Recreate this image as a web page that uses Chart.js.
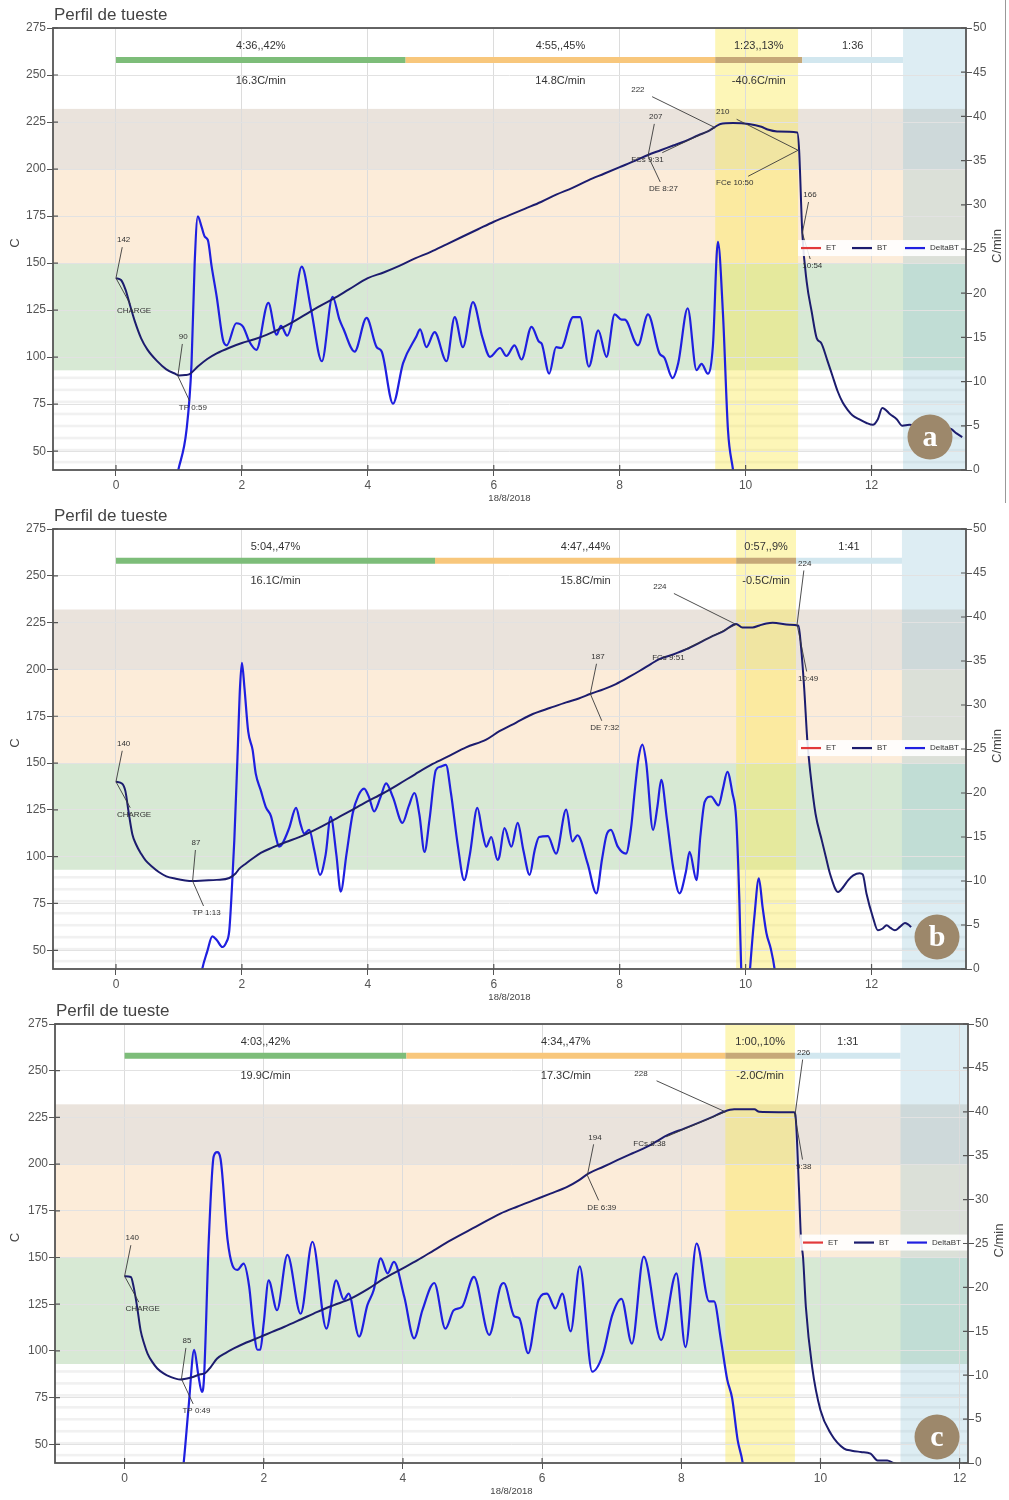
<!DOCTYPE html>
<html><head><meta charset="utf-8">
<script src="https://cdn.jsdelivr.net/npm/chart.js@4.4.1/dist/chart.umd.min.js"></script>
<style>
html,body{margin:0;padding:0;background:#fff;}
body{width:1009px;height:1500px;position:relative;overflow:hidden;}
.panel{position:absolute;left:0;width:1009px;}
canvas{display:block;}
</style></head><body>
<div class="panel" style="top:0;height:503px"><canvas id="cA" width="1009" height="503"></canvas></div>
<div class="panel" style="top:503px;height:500px"><canvas id="cB" width="1009" height="500"></canvas></div>
<div class="panel" style="top:1003px;height:497px"><canvas id="cC" width="1009" height="497"></canvas></div>
<script>
// ---------- shared labels / ticks ----------
const chartTitle = 'Perfil de tueste';
const xAxisTitle = '18/8/2018';
const leftAxisTitle = 'C';
const rightAxisTitle = 'C/min';
const timeTicks = [0, 2, 4, 6, 8, 10, 12];
const tempTicks = [50, 75, 100, 125, 150, 175, 200, 225, 250, 275];
const rorTicks = [0, 5, 10, 15, 20, 25, 30, 35, 40, 45, 50];
const legendLabels = ['ET', 'BT', 'DeltaBT'];
const panelLetters = ['a', 'b', 'c'];

// ---------- panel a ----------
const btA = [[0,142],[0.08,141],[0.15,136],[0.22,128],[0.3,119],[0.4,110],[0.5,104],[0.65,98],[0.8,93.5],[0.95,91],[1.0,90.3],[1.1,90.5],[1.17,91],[1.3,95],[1.45,99],[1.6,102],[1.8,105],[2.0,107.5],[2.2,109.5],[2.4,112],[2.6,115],[2.8,118.5],[3.0,122.5],[3.2,126.5],[3.45,131],[3.7,136],[4.0,142],[4.25,145],[4.5,148.5],[4.75,152.5],[5.0,156],[5.25,160],[5.5,164],[5.75,168],[6.0,172],[6.25,175.5],[6.5,179],[6.75,182.5],[7.0,186.5],[7.25,190],[7.5,194],[7.75,197.5],[8.0,201],[8.25,204.5],[8.45,207.5],[8.65,210],[8.85,212.5],[9.05,215],[9.25,218],[9.4,220],[9.52,222.5],[9.6,224],[9.8,224.5],[10.05,224],[10.25,222.5],[10.35,221],[10.5,220],[10.82,219.5],[10.85,210],[10.9,166],[10.97,140],[11.05,124],[11.13,110],[11.2,107.5],[11.3,98],[11.38,90],[11.46,82],[11.54,76],[11.62,72],[11.7,69],[11.8,67],[11.92,65],[12.02,64],[12.1,67],[12.17,73],[12.3,69.5],[12.4,67],[12.49,63.5],[12.6,64],[12.76,63],[12.92,60],[13.05,61.5],[13.24,62],[13.35,59.5],[13.44,57.5]];
const rorA = [[0.9,-3],[0.99,0],[1.12,4.5],[1.2,12],[1.25,23.4],[1.3,28.7],[1.36,27.5],[1.41,26.4],[1.46,26],[1.52,23],[1.6,19.6],[1.7,14.7],[1.76,14.1],[1.91,16.6],[2.02,16.2],[2.12,14.5],[2.23,13.6],[2.42,18.9],[2.55,15.3],[2.62,16.3],[2.72,15.2],[2.8,16.8],[2.95,23],[3.1,18.1],[3.27,12.3],[3.44,19.6],[3.55,17],[3.61,16],[3.79,13.4],[3.98,17.2],[4.14,13.9],[4.22,13.4],[4.4,7.5],[4.56,12.1],[4.77,15.1],[4.83,15.9],[4.93,13.9],[5.06,15.6],[5.25,12.3],[5.38,17.3],[5.51,13.9],[5.67,19],[5.82,15],[5.94,12.8],[6.1,13.8],[6.2,12.9],[6.33,14.1],[6.44,12.5],[6.6,16.2],[6.72,14.5],[6.76,14.3],[6.88,10.9],[6.99,13.9],[7.07,13.8],[7.26,17.3],[7.37,17.3],[7.51,11.7],[7.66,15.8],[7.79,12.8],[7.92,17.6],[8.03,17],[8.08,17],[8.29,14.1],[8.45,17.6],[8.63,13.2],[8.71,12.7],[8.84,10.4],[8.93,12.1],[9.08,18.3],[9.22,11.3],[9.3,12],[9.4,10.9],[9.48,14],[9.56,25.8],[9.64,17.7],[9.72,4.5],[9.8,0],[9.87,-4]];
const phaseEdgesA = [0, 4.6, 9.517, 10.9, 12.5];
const phaseTimesA = ['4:36,,42%', '4:55,,45%', '1:23,,13%', '1:36'];
const phaseRatesA = ['16.3C/min', '14.8C/min', '-40.6C/min', ''];
const devBandA = [9.517, 10.833];
const eventTimesA = [0, 0.983, 8.45, 9.517, 10.833, 10.9];
const eventTempsA = [142, 90, 207, 222, 210, 166];
const eventValuesA = ['142', '90', '207', '222', '210', '166'];
const eventNamesA = ['CHARGE', 'TP 0:59', 'DE 8:27', 'FCs 9:31', 'FCe 10:50', '10:54'];

// ---------- panel b ----------
const btB = [[0,140],[0.1,139],[0.15,135],[0.2,124],[0.26,112],[0.32,106.5],[0.4,101.5],[0.47,98],[0.58,94.5],[0.68,91.8],[0.8,89.5],[0.95,88.2],[1.1,87.3],[1.22,87],[1.4,87.3],[1.6,87.6],[1.8,88.6],[1.9,91],[1.96,93.6],[2.07,96.5],[2.17,99],[2.3,102],[2.48,104.8],[2.7,107.8],[2.91,110.4],[3.2,115],[3.44,119.3],[3.7,124],[3.97,129.1],[4.25,134],[4.5,138.9],[4.75,144],[5.03,149.5],[5.3,154],[5.56,158.4],[5.88,162.5],[6.09,167],[6.35,171.5],[6.62,176.2],[6.9,179.5],[7.15,182.4],[7.35,184.5],[7.54,187],[7.75,189.5],[7.94,192.2],[8.15,196],[8.32,199.3],[8.5,203],[8.63,205.5],[8.85,208],[9.06,210.8],[9.28,214.5],[9.48,217.9],[9.65,220.5],[9.85,224.3],[9.95,222.4],[10.11,222.4],[10.22,223.5],[10.33,224.5],[10.43,224.9],[10.7,223.8],[10.84,223.3],[10.88,212],[10.93,190],[10.98,162],[11.03,144.2],[11.11,122.9],[11.21,108.7],[11.28,99],[11.34,90.9],[11.47,81.1],[11.55,83.8],[11.63,87.5],[11.71,90],[11.81,91.2],[11.86,90.5],[11.92,80.2],[12.02,67.8],[12.1,60.7],[12.17,61.5],[12.24,63.4],[12.3,62],[12.37,60.7],[12.45,62.5],[12.53,64.6],[12.58,63.8],[12.63,62.4]];
const rorB = [[1.3,-3],[1.37,0],[1.45,2],[1.53,3.7],[1.6,3.3],[1.69,2.5],[1.75,3],[1.8,4.4],[1.84,9],[1.88,14.7],[1.93,24.1],[1.97,32],[2.0,34.8],[2.04,32],[2.1,27],[2.17,24.9],[2.22,22.2],[2.3,20.3],[2.38,18.4],[2.46,17.4],[2.54,15],[2.59,13.9],[2.64,14.2],[2.75,16],[2.86,18.3],[2.93,16.5],[2.99,15.4],[3.07,15.8],[3.15,13.5],[3.24,10.7],[3.33,13],[3.41,17.3],[3.5,13],[3.57,8.8],[3.66,13],[3.76,17.7],[3.85,19.7],[3.94,20.5],[4.02,19.5],[4.1,17.9],[4.2,19.5],[4.29,21.1],[4.4,19.5],[4.55,16.6],[4.65,18.5],[4.74,20],[4.82,17.5],[4.9,13.3],[4.98,17],[5.08,22.6],[5.16,23],[5.24,23.2],[5.32,20],[5.43,14],[5.53,10.1],[5.62,13],[5.74,18.3],[5.82,15.5],[5.88,13.9],[5.96,15],[6.06,12.4],[6.09,12.8],[6.17,16],[6.28,13.9],[6.38,16.6],[6.47,13.5],[6.57,10.7],[6.65,13.5],[6.72,15],[6.86,15.1],[6.99,13.1],[7.15,18.1],[7.25,14.5],[7.33,15.2],[7.49,12],[7.63,8.6],[7.72,12.5],[7.79,15.2],[7.86,15.8],[7.97,13.9],[8.1,13.1],[8.18,16],[8.24,20.3],[8.3,24],[8.36,25.5],[8.42,23.5],[8.53,15.8],[8.6,18.5],[8.66,21.5],[8.75,17],[8.85,11.5],[8.95,8.6],[9.05,11],[9.11,13.3],[9.22,10.1],[9.28,15],[9.35,19],[9.45,19.6],[9.57,18.6],[9.64,20.5],[9.71,22.4],[9.79,20],[9.85,17.1],[9.9,8],[9.93,0],[9.98,-4],[10.03,-4],[10.07,0],[10.14,6],[10.21,10.3],[10.27,7],[10.33,4.1],[10.4,2.3],[10.46,0],[10.52,-4]];
const phaseEdgesB = [0, 5.067, 9.85, 10.8, 12.483];
const phaseTimesB = ['5:04,,47%', '4:47,,44%', '0:57,,9%', '1:41'];
const phaseRatesB = ['16.1C/min', '15.8C/min', '-0.5C/min', ''];
const devBandB = [9.85, 10.8];
const eventTimesB = [0, 1.217, 7.533, 9.85, 10.817];
const eventTempsB = [140, 87, 187, 224, 224];
const eventValuesB = ['140', '87', '187', '224', '224'];
const eventNamesB = ['CHARGE', 'TP 1:13', 'DE 7:32', 'FCs 9:51', '10:49'];

// ---------- panel c ----------
const btC = [[0,140],[0.09,139.6],[0.13,134.3],[0.18,123.6],[0.23,111],[0.28,104],[0.33,98.6],[0.4,94],[0.47,90.6],[0.56,88],[0.66,86.1],[0.8,84.7],[0.95,85.7],[1.09,87.5],[1.16,88.2],[1.24,91.5],[1.33,95.9],[1.45,98.8],[1.57,101.3],[1.75,104.5],[1.95,107.5],[2.12,110.2],[2.29,112.8],[2.53,116.8],[2.77,120.9],[3.0,124.4],[3.25,128],[3.5,133.2],[3.73,138.8],[3.97,143.7],[4.21,148.6],[4.45,154],[4.69,159.3],[5.05,166.5],[5.4,173.5],[5.64,177.2],[5.88,180.7],[6.12,184.2],[6.36,187.8],[6.52,191.2],[6.67,195],[6.88,198.6],[7.08,202.1],[7.3,205.8],[7.51,209.3],[7.65,212.3],[7.8,215.5],[8.04,219],[8.28,222.6],[8.45,225.3],[8.61,228],[8.76,229.3],[8.9,229.3],[9.05,229.3],[9.12,228],[9.4,227.8],[9.62,227.7],[9.64,226.2],[9.69,187.8],[9.72,160],[9.75,150],[9.79,123.6],[9.88,91.4],[10.0,68.2],[10.15,55.7],[10.34,47.7],[10.45,46.6],[10.58,45.9],[10.72,45],[10.82,41.4],[10.96,41.4],[11.05,40],[11.1,39.5]];
const rorC = [[0.8,-3],[0.85,0.1],[0.92,6.4],[1.0,12.9],[1.06,10],[1.11,8.1],[1.14,9.5],[1.21,25.4],[1.28,34.9],[1.33,35.4],[1.38,34.6],[1.48,25.4],[1.55,22.5],[1.62,22],[1.71,22.7],[1.79,20.1],[1.85,15.5],[1.91,12.9],[1.95,12.9],[2.0,16],[2.07,20.8],[2.19,17.4],[2.34,23.7],[2.53,17],[2.7,25.2],[2.9,15.3],[3.04,20.8],[3.15,18.6],[3.22,19.3],[3.37,14.4],[3.49,18],[3.58,19.7],[3.68,23.3],[3.78,21.6],[3.87,22.9],[4.02,18.9],[4.16,14.2],[4.28,17.4],[4.45,20.5],[4.61,15.3],[4.73,17.4],[4.85,17.8],[5.02,21.2],[5.24,14.6],[5.4,20.1],[5.45,20.5],[5.6,16.7],[5.67,16.5],[5.8,12.5],[5.95,18.6],[6.07,19.3],[6.19,17.6],[6.29,19.3],[6.41,15],[6.54,22.4],[6.72,10.4],[6.87,12.3],[7.01,16.9],[7.14,18.7],[7.29,13.6],[7.46,23.5],[7.71,14],[7.93,21.6],[8.06,13.2],[8.22,25],[8.4,18.4],[8.47,18.4],[8.57,14],[8.66,9.5],[8.73,7.4],[8.81,2.6],[8.88,0.1],[8.94,-4]];
const phaseEdgesC = [0, 4.05, 8.633, 9.633, 11.15];
const phaseTimesC = ['4:03,,42%', '4:34,,47%', '1:00,,10%', '1:31'];
const phaseRatesC = ['19.9C/min', '17.3C/min', '-2.0C/min', ''];
const devBandC = [8.633, 9.633];
const eventTimesC = [0, 0.817, 6.65, 8.633, 9.633];
const eventTempsC = [140, 85, 194, 228, 226];
const eventValuesC = ['140', '85', '194', '228', '226'];
const eventNamesC = ['CHARGE', 'TP 0:49', 'DE 6:39', 'FCs 8:38', '9:38'];

// ---------- styles / layout (not data) ----------
const FONT = "'Liberation Sans', Arial, sans-serif";
const COL = { et: '#e23a3a', bt: '#1c1c6e', ror: '#1f1fe0', text: '#333', axis: '#555', grid: '#dcdcdc' };
const phaseColors = ['#7dbd79', '#f8c77c', '#c6a878', '#d2e7ef'];
const tempZones = [[93, 150, '#d7e9d4'], [150, 200, '#fcecd9'], [200, 232, '#eae3dc']];
const BAR_T = 258, TOP_TXT_T = 265.5, BOT_TXT_T = 247, LEGEND_T = 158;

const layoutA = { padTop: 28, xH: 33, leftW: 53, rightW: 43, xMax: 13.5, letterPos: [-36, -33], frame: true,
  offsets: [[1,-38,1,33],[1,-39,1,32],[1,-39,1,33],[-84,-38,-84,32],[-82,-38,-82,33],[1,-38,0,33]] };
const layoutB = { padTop: 26, xH: 34, leftW: 53, rightW: 43, xMax: 13.5, letterPos: [-29, -32], frame: false,
  offsets: [[1,-38,1,33],[-1,-38,0,32],[1,-37,0,34],[-83,-38,-84,33],[1,-61,1,54]] };
const layoutC = { padTop: 21, xH: 37, leftW: 55, rightW: 41, xMax: 12.12, letterPos: [-31, -26], frame: false,
  offsets: [[1,-38,1,33],[1,-38,1,32],[1,-38,0,32],[-91,-38,-92,32],[2,-63,1,51]] };

function makePlugin(P) {
  return {
    id: 'roast' + P.letter,
    beforeDraw(chart) {
      const { ctx, chartArea: a } = chart;
      const xs = chart.scales.x, ys = chart.scales.y;
      ctx.save();
      ctx.fillStyle = '#fff';
      ctx.fillRect(0, 0, chart.width, chart.height);
      ctx.beginPath(); ctx.rect(a.left, a.top, a.right - a.left, a.bottom - a.top); ctx.clip();
      ctx.fillStyle = '#f1f1f1';
      for (let T = 43.5; T < 91; T += 6.4) {
        const y1 = ys.getPixelForValue(T + 1.4), y0 = ys.getPixelForValue(T);
        ctx.fillRect(a.left, y1, a.right - a.left, y0 - y1);
      }
      tempZones.forEach(([lo, hi, c]) => {
        const y1 = ys.getPixelForValue(hi), y0 = ys.getPixelForValue(lo);
        ctx.fillStyle = c;
        ctx.fillRect(a.left, y1, a.right - a.left, y0 - y1);
      });
      let x0 = xs.getPixelForValue(P.dev[0]), x1 = xs.getPixelForValue(P.dev[1]);
      ctx.fillStyle = 'rgba(250,232,75,0.4)';
      ctx.fillRect(x0, a.top, x1 - x0, a.bottom - a.top);
      x0 = xs.getPixelForValue(P.edges[4]);
      ctx.fillStyle = 'rgba(142,195,215,0.3)';
      ctx.fillRect(x0, a.top, a.right - x0, a.bottom - a.top);
      ctx.restore();
    },
    afterDatasetsDraw(chart) {
      const { ctx, chartArea: a } = chart;
      const xs = chart.scales.x, ys = chart.scales.y;
      ctx.save();
      const yb = ys.getPixelForValue(BAR_T);
      ctx.lineWidth = 6; ctx.lineCap = 'butt';
      for (let i = 0; i < 4; i++) {
        ctx.strokeStyle = phaseColors[i];
        ctx.beginPath();
        ctx.moveTo(xs.getPixelForValue(P.edges[i]), yb);
        ctx.lineTo(xs.getPixelForValue(P.edges[i + 1]), yb);
        ctx.stroke();
      }
      ctx.fillStyle = COL.text; ctx.font = '11px ' + FONT;
      ctx.textAlign = 'center'; ctx.textBaseline = 'middle';
      for (let i = 0; i < 4; i++) {
        const cx = (xs.getPixelForValue(P.edges[i]) + xs.getPixelForValue(P.edges[i + 1])) / 2;
        ctx.fillText(P.times[i], cx, ys.getPixelForValue(TOP_TXT_T));
        if (P.rates[i]) ctx.fillText(P.rates[i], cx, ys.getPixelForValue(BOT_TXT_T));
      }
      ctx.font = '8px ' + FONT; ctx.textAlign = 'left';
      ctx.strokeStyle = '#3a3a3a'; ctx.lineWidth = 0.9;
      P.evT.forEach((t, i) => {
        const X = xs.getPixelForValue(t), Y = ys.getPixelForValue(P.evV[i]);
        const o = P.offsets[i];
        [[P.evVal[i], o[0], o[1]], [P.evName[i], o[2], o[3]]].forEach(([txt, dx, dy]) => {
          const w = ctx.measureText(txt).width;
          const lx = X + dx, cy = Y + dy, cx = lx + w / 2;
          const k = 7 / Math.abs(dy);
          ctx.beginPath();
          ctx.moveTo(cx + (X - cx) * k, cy + (Y - cy) * k);
          ctx.lineTo(X, Y);
          ctx.stroke();
          ctx.fillStyle = COL.text;
          ctx.fillText(txt, lx, cy);
        });
      });
      const ly = ys.getPixelForValue(LEGEND_T);
      ctx.fillStyle = 'rgba(255,255,255,0.88)';
      ctx.fillRect(a.right - 168, ly - 8, 168, 16);
      const legCols = [COL.et, COL.bt, COL.ror];
      const legX = [-165, -114, -61];
      ctx.lineWidth = 2.2;
      legendLabels.forEach((lab, i) => {
        const lx = a.right + legX[i];
        ctx.strokeStyle = legCols[i];
        ctx.beginPath(); ctx.moveTo(lx, ly); ctx.lineTo(lx + 20, ly); ctx.stroke();
        ctx.fillStyle = '#333';
        ctx.fillText(lab, lx + 25, ly);
      });
      const bx = a.right + P.letterPos[0], by = a.bottom + P.letterPos[1];
      ctx.fillStyle = '#9d886b';
      ctx.beginPath(); ctx.arc(bx, by, 22.5, 0, Math.PI * 2); ctx.fill();
      ctx.fillStyle = '#fff';
      ctx.font = "bold 30px 'Liberation Serif', 'DejaVu Serif', serif";
      ctx.textAlign = 'center'; ctx.textBaseline = 'middle';
      ctx.fillText(P.letter, bx, by + 1);
      ctx.restore();
    },
    afterDraw(chart) {
      const { ctx, chartArea: a } = chart;
      const xs = chart.scales.x, ys = chart.scales.y, y1s = chart.scales.y1;
      ctx.save();
      ctx.strokeStyle = COL.axis; ctx.lineWidth = 1.8;
      ctx.strokeRect(a.left, a.top, a.right - a.left, a.bottom - a.top);
      ctx.lineWidth = 1.2;
      ctx.beginPath();
      tempTicks.forEach(v => { const y = ys.getPixelForValue(v); ctx.moveTo(a.left, y); ctx.lineTo(a.left + 5, y); });
      rorTicks.forEach(v => { const y = y1s.getPixelForValue(v); ctx.moveTo(a.right - 5, y); ctx.lineTo(a.right, y); });
      timeTicks.forEach(v => { const x = xs.getPixelForValue(v); ctx.moveTo(x, a.bottom - 5); ctx.lineTo(x, a.bottom); });
      ctx.stroke();
      ctx.fillStyle = '#444'; ctx.textBaseline = 'middle';
      ctx.font = '17px ' + FONT; ctx.textAlign = 'left';
      ctx.fillText(chartTitle, a.left + 1, a.top - 13);
      ctx.font = '9.5px ' + FONT; ctx.textAlign = 'center';
      ctx.fillText(xAxisTitle, (a.left + a.right) / 2, a.bottom + 28);
      ctx.font = '13px ' + FONT;
      const cy = (a.top + a.bottom) / 2;
      ctx.save(); ctx.translate(15, cy - 6); ctx.rotate(-Math.PI / 2); ctx.fillText(leftAxisTitle, 0, 0); ctx.restore();
      ctx.save(); ctx.translate(a.right + 31, cy - 3); ctx.rotate(-Math.PI / 2); ctx.fillText(rightAxisTitle, 0, 0); ctx.restore();
      if (P.frame) {
        ctx.strokeStyle = '#999'; ctx.lineWidth = 1;
        ctx.beginPath(); ctx.moveTo(1005.5, 0); ctx.lineTo(1005.5, chart.height); ctx.stroke();
      }
      ctx.restore();
    }
  };
}

Chart.defaults.font.family = FONT;

function makeChart(id, P) {
  const toPts = arr => arr.map(([t, v]) => ({ x: t, y: v }));
  const tickFont = { size: 12, family: FONT };
  return new Chart(document.getElementById(id), {
    type: 'line',
    data: { datasets: [
      { label: legendLabels[0], data: [], borderColor: COL.et, yAxisID: 'y', pointRadius: 0 },
      { label: legendLabels[1], data: toPts(P.bt), borderColor: COL.bt, borderWidth: 2, pointRadius: 0, yAxisID: 'y', cubicInterpolationMode: 'monotone' },
      { label: legendLabels[2], data: toPts(P.ror), borderColor: COL.ror, borderWidth: 2.2, pointRadius: 0, yAxisID: 'y1', cubicInterpolationMode: 'monotone' }
    ] },
    options: {
      responsive: false, animation: false, devicePixelRatio: 1,
      layout: { padding: { top: P.padTop, left: 0, right: 0, bottom: 0 } },
      plugins: { legend: { display: false }, tooltip: { enabled: false } },
      events: [],
      scales: {
        x: { type: 'linear', min: -1, max: P.xMax,
          afterBuildTicks: s => { s.ticks = timeTicks.map(v => ({ value: v })); },
          afterFit: s => { s.height = P.xH; },
          ticks: { font: tickFont, color: '#555', maxRotation: 0, autoSkip: false, padding: 2 },
          grid: { color: COL.grid, tickColor: COL.axis, tickLength: 6, lineWidth: 1 },
          border: { display: false } },
        y: { position: 'left', min: 40, max: 275,
          afterBuildTicks: s => { s.ticks = tempTicks.map(v => ({ value: v })); },
          afterFit: s => { s.width = P.leftW; },
          ticks: { font: tickFont, color: '#555', padding: 1 },
          grid: { color: '#e2e2e2', tickColor: COL.axis, tickLength: 6 },
          border: { display: false } },
        y1: { position: 'right', min: 0, max: 50,
          afterBuildTicks: s => { s.ticks = rorTicks.map(v => ({ value: v })); },
          afterFit: s => { s.width = P.rightW; },
          ticks: { font: tickFont, color: '#555', padding: 1 },
          grid: { drawOnChartArea: false, tickColor: COL.axis, tickLength: 6 },
          border: { display: false } }
      }
    },
    plugins: [makePlugin(P)]
  });
}

makeChart('cA', Object.assign({ bt: btA, ror: rorA, edges: phaseEdgesA, times: phaseTimesA, rates: phaseRatesA, dev: devBandA,
  evT: eventTimesA, evV: eventTempsA, evVal: eventValuesA, evName: eventNamesA, letter: panelLetters[0] }, layoutA));
makeChart('cB', Object.assign({ bt: btB, ror: rorB, edges: phaseEdgesB, times: phaseTimesB, rates: phaseRatesB, dev: devBandB,
  evT: eventTimesB, evV: eventTempsB, evVal: eventValuesB, evName: eventNamesB, letter: panelLetters[1] }, layoutB));
makeChart('cC', Object.assign({ bt: btC, ror: rorC, edges: phaseEdgesC, times: phaseTimesC, rates: phaseRatesC, dev: devBandC,
  evT: eventTimesC, evV: eventTempsC, evVal: eventValuesC, evName: eventNamesC, letter: panelLetters[2] }, layoutC));
</script>
</body></html>
